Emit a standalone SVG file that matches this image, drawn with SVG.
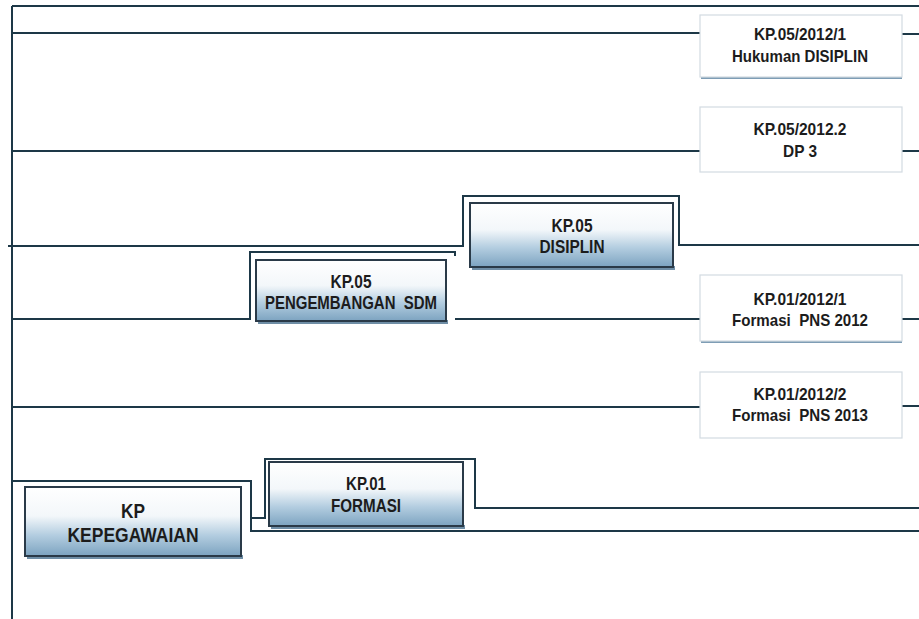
<svg xmlns="http://www.w3.org/2000/svg" width="919" height="619" viewBox="0 0 919 619">
<defs>
<linearGradient id="boxGrad" x1="0" y1="0" x2="0" y2="1">
<stop offset="0" stop-color="#ffffff"/>
<stop offset="0.42" stop-color="#f3f7fa"/>
<stop offset="0.7" stop-color="#b3cde0"/>
<stop offset="1" stop-color="#7ca3c0"/>
</linearGradient>
<style>
.ln{fill:none;stroke:#1d3847;stroke-width:2}
.main rect.b{fill:url(#boxGrad);stroke:#2a3a48;stroke-width:2}
.main rect.s{fill:#6f8ea6}
.leaf rect.b{fill:#ffffff;stroke:#d3dbe2;stroke-width:1.2}
.leaf rect.s{fill:#7e9db5}
text{font-family:"Liberation Sans",Arial,sans-serif;font-weight:bold;fill:#1c1c1c;text-anchor:middle;white-space:pre}
.m{font-size:18px}
.k{font-size:21px}
.l{font-size:17px}
</style>
</defs>
<rect x="0" y="0" width="919" height="619" fill="#ffffff"/>
<g id="connectors">
<path class="ln" d="M12,6 H919 M12,6 V619"/>
<path class="ln" d="M12,33 H700 M902,34 H919"/>
<path class="ln" d="M12,151 H700 M902,151 H919"/>
<path class="ln" d="M8,246 H463 V196 H679 V245 H919"/>
<path class="ln" d="M12,319 H250 V252 H455 V256"/>
<path class="ln" d="M455,319 H700 M902,319 H919"/>
<path class="ln" d="M12,407 H700 M902,406 H919"/>
<path class="ln" d="M12,481 H251 V531 H919"/>
<path class="ln" d="M251,518 H265 V459 H475 V508 H919"/>
</g>
<g id="leaf1" class="leaf">
<rect class="s" x="701" y="76" width="201" height="3"/>
<rect class="b" x="700" y="15" width="202" height="62"/>
<text class="l" x="800" y="40" textLength="92" lengthAdjust="spacingAndGlyphs">KP.05/2012/1</text>
<text class="l" x="800" y="62" textLength="136" lengthAdjust="spacingAndGlyphs">Hukuman DISIPLIN</text>
</g>
<g id="leaf2" class="leaf">
<rect class="b" x="700" y="107" width="202" height="65"/>
<text class="l" x="800" y="135" textLength="93" lengthAdjust="spacingAndGlyphs">KP.05/2012.2</text>
<text class="l" x="800" y="157" textLength="34" lengthAdjust="spacingAndGlyphs">DP 3</text>
</g>
<g id="leaf3" class="leaf">
<rect class="s" x="701" y="340" width="201" height="3"/>
<rect class="b" x="700" y="275" width="202" height="66"/>
<text class="l" x="800" y="305" textLength="93" lengthAdjust="spacingAndGlyphs">KP.01/2012/1</text>
<text class="l" x="800" y="326" textLength="136" lengthAdjust="spacingAndGlyphs" xml:space="preserve">Formasi  PNS 2012</text>
</g>
<g id="leaf4" class="leaf">
<rect class="b" x="700" y="372" width="202" height="66"/>
<text class="l" x="800" y="400" textLength="93" lengthAdjust="spacingAndGlyphs">KP.01/2012/2</text>
<text class="l" x="800" y="421" textLength="136" lengthAdjust="spacingAndGlyphs" xml:space="preserve">Formasi  PNS 2013</text>
</g>
<g id="disiplin" class="main">
<rect class="s" x="472" y="266" width="203" height="4"/>
<rect class="b" x="470" y="203" width="203" height="64"/>
<text class="m" x="572" y="232" textLength="41" lengthAdjust="spacingAndGlyphs">KP.05</text>
<text class="m" x="572" y="253" textLength="65" lengthAdjust="spacingAndGlyphs">DISIPLIN</text>
</g>
<g id="pengembangan" class="main">
<rect class="s" x="258" y="320" width="190" height="4"/>
<rect class="b" x="256" y="260" width="190" height="61"/>
<text class="m" x="351" y="288" textLength="41" lengthAdjust="spacingAndGlyphs">KP.05</text>
<text class="m" x="351" y="309" textLength="172" lengthAdjust="spacingAndGlyphs" xml:space="preserve">PENGEMBANGAN  SDM</text>
</g>
<g id="formasi" class="main">
<rect class="s" x="271" y="525" width="194" height="4"/>
<rect class="b" x="269" y="462" width="194" height="64"/>
<text class="m" x="366" y="490" textLength="40" lengthAdjust="spacingAndGlyphs">KP.01</text>
<text class="m" x="366" y="512" textLength="70" lengthAdjust="spacingAndGlyphs">FORMASI</text>
</g>
<g id="kepegawaian" class="main">
<rect class="s" x="27" y="555" width="216" height="4"/>
<rect class="b" x="25" y="487" width="216" height="69"/>
<text class="k" x="133" y="518" textLength="24" lengthAdjust="spacingAndGlyphs">KP</text>
<text class="k" x="133" y="542" textLength="131" lengthAdjust="spacingAndGlyphs">KEPEGAWAIAN</text>
</g>
</svg>
